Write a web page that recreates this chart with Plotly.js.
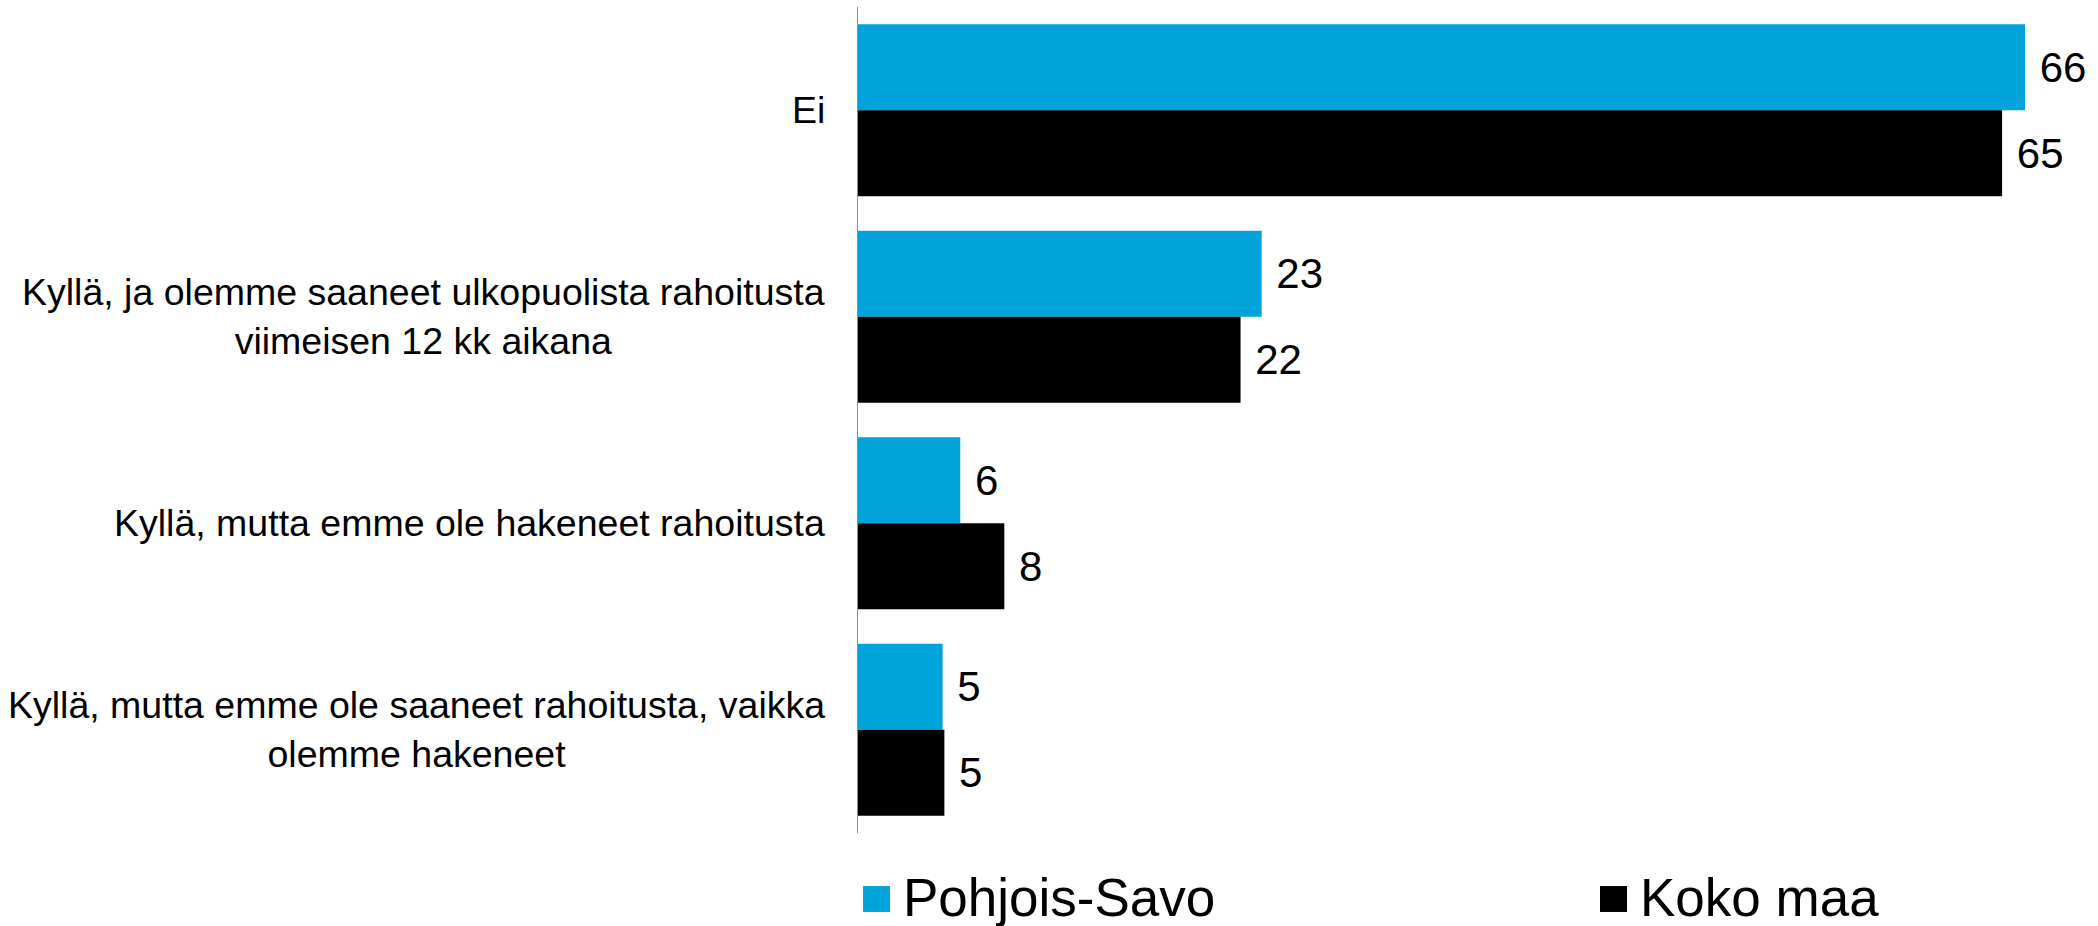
<!DOCTYPE html>
<html>
<head>
<meta charset="utf-8">
<script src="https://cdn.plot.ly/plotly-3.0.1.min.js"></script>
<style>
  html, body { margin: 0; padding: 0; background: #ffffff; }
  #chart { width: 2098px; height: 926px; }
</style>
</head>
<body>
<div id="chart"></div>
<script>
// ---- data ----
const categories = ['Ei', 'Kyllä, ja olemme saaneet ulkopuolista rahoitusta viimeisen 12 kk aikana',
  'Kyllä, mutta emme ole hakeneet rahoitusta',
  'Kyllä, mutta emme ole saaneet rahoitusta, vaikka olemme hakeneet'];
const categoryLabels = ['Ei', 'Kyllä, ja olemme saaneet ulkopuolista rahoitusta<br>viimeisen 12 kk aikana',
  'Kyllä, mutta emme ole hakeneet rahoitusta',
  'Kyllä, mutta emme ole saaneet rahoitusta, vaikka<br>olemme hakeneet'];
const seriesNames = ['Pohjois-Savo', 'Koko maa'];
const pohjoisSavo = [66.2, 22.9, 5.8, 4.8];
const kokoMaa = [64.9, 21.7, 8.3, 4.9];

const FONT = '"Liberation Sans", Arial, sans-serif';
const colors = ['#00A3DA', '#000000'];

function mkTrace(name, vals, color) {
  return {
    type: 'bar', orientation: 'h', name: name,
    y: categories, x: vals,
    marker: { color: color, line: { width: 0 } },
    text: vals.map(v => '\u00a0' + Math.round(v)),
    textposition: 'outside', constraintext: 'none', cliponaxis: false,
    textfont: { family: FONT, size: 42, color: '#000000' },
    hoverinfo: 'x+name', showlegend: false
  };
}

const data = [mkTrace(seriesNames[0], pohjoisSavo, colors[0]),
              mkTrace(seriesNames[1], kokoMaa, colors[1])];

// category labels (placed on the category axis positions)
const annotations = categories.map((c, i) => ({
  xref: 'paper', yref: 'y', x: 0, y: c, xanchor: 'right', yanchor: 'middle',
  xshift: -31, text: categoryLabels[i], align: 'center', showarrow: false,
  font: { family: FONT, size: 37.5, color: '#000000' }
}));

// legend (swatch + text) below the plot
const legendX = [0.0041, 0.6013];
const swatchW = 0.0219;
const shapes = [];
seriesNames.forEach((n, i) => {
  shapes.push({ type: 'rect', xref: 'paper', yref: 'paper',
    x0: legendX[i], x1: legendX[i] + swatchW, y0: -0.0956, y1: -0.0642,
    fillcolor: colors[i], line: { width: 0 } });
  annotations.push({ xref: 'paper', yref: 'paper', x: legendX[i] + swatchW + 0.009, y: -0.078,
    xanchor: 'left', yanchor: 'middle', text: n, showarrow: false,
    font: { family: FONT, size: 53, color: '#000000' } });
});

const layout = {
  width: 2098, height: 926,
  margin: { l: 858, r: 6, t: 7, b: 93, pad: 0 },
  paper_bgcolor: '#ffffff', plot_bgcolor: '#ffffff',
  font: { family: FONT, color: '#000000' },
  barmode: 'group', bargap: 0.167, bargroupgap: 0,
  xaxis: { range: [0, 70], visible: false, showgrid: false, zeroline: false, fixedrange: true },
  yaxis: { type: 'category', autorange: 'reversed', showticklabels: false, ticks: '',
           showline: true, linecolor: '#8c8c8c', linewidth: 1.5, showgrid: false, zeroline: false },
  showlegend: false,
  annotations: annotations,
  shapes: shapes
};

Plotly.newPlot('chart', data, layout, { displayModeBar: false, staticPlot: true });
</script>
</body>
</html>
